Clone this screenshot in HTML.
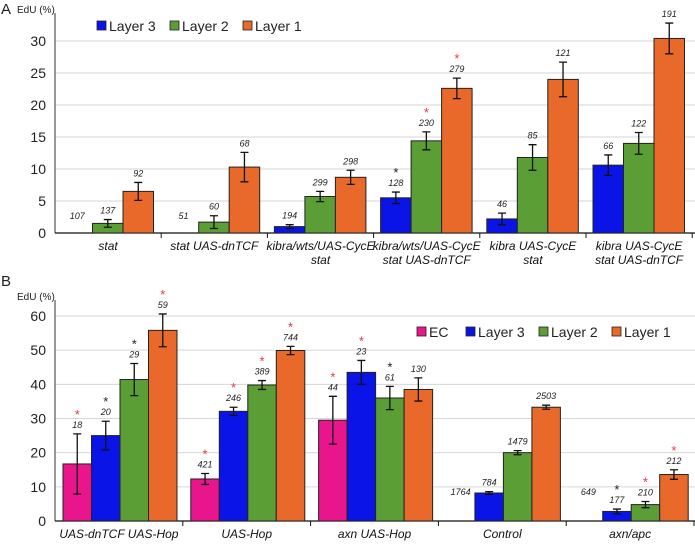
<!DOCTYPE html>
<html><head><meta charset="utf-8"><style>
body{margin:0;background:#fff;}
svg{display:block;font-family:"Liberation Sans",sans-serif;}
</style></head><body>
<svg id="c" width="695" height="544" viewBox="0 0 695 544"></svg>
<script>
const aGroups=[["stat"],["stat UAS-dnTCF"],["kibra/wts/UAS-CycE","stat"],["kibra/wts/UAS-CycE","stat UAS-dnTCF"],["kibra UAS-CycE","stat"],["kibra UAS-CycE","stat UAS-dnTCF"]];
const aSeries=["Layer 3","Layer 2","Layer 1"];
const aL3=[0,0,1.0,5.5,2.2,10.6];
const aL2=[1.5,1.7,5.7,14.4,11.8,14.0];
const aL1=[6.5,10.3,8.7,22.6,24.0,30.4];
const aE3=[0,0,0.3,0.9,0.9,1.6];
const aE2=[0.6,1.0,0.8,1.4,2.0,1.7];
const aE1=[1.4,2.3,1.1,1.6,2.7,2.4];
const aN3=["107","51","194","128","46","66"];
const aN2=["137","60","299","230","85","122"];
const aN1=["92","68","298","279","121","191"];
const aS3=["","","","k","",""];
const aS2=["","","","r","",""];
const aS1=["","","","r","",""];
const aTicks=[0,5,10,15,20,25,30];

const bGroups=["UAS-dnTCF UAS-Hop","UAS-Hop","axn UAS-Hop","Control","axn/apc"];
const bSeries=["EC","Layer 3","Layer 2","Layer 1"];
const bEC=[16.7,12.3,29.5,0,0];
const bL3=[25.0,32.1,43.5,8.2,2.8];
const bL2=[41.4,39.8,36.0,20.0,4.8];
const bL1=[55.8,49.9,38.5,33.3,13.6];
const bEEC=[8.8,1.6,7.0,0,0];
const bE3=[4.2,1.2,3.5,0.4,0.7];
const bE2=[4.7,1.3,3.4,0.6,0.9];
const bE1=[4.8,1.2,3.4,0.6,1.4];
const bNEC=["18","421","44","1764","649"];
const bN3=["20","246","23","784","177"];
const bN2=["29","389","61","1479","210"];
const bN1=["59","744","130","2503","212"];
const bSEC=["r","r","r","",""];
const bS3=["k","r","r","","k"];
const bS2=["k","r","k","","r"];
const bS1=["r","r","","","r"];
const bTicks=[0,10,20,30,40,50,60];

const colors={"EC":"#e8158c","Layer 3":"#0a14e6","Layer 2":"#5c9e36","Layer 1":"#e8692a"};
const svg=document.getElementById('c');
const NS="http://www.w3.org/2000/svg";
function mk(tag,attrs,parent){const e=document.createElementNS(NS,tag);for(const k in attrs)e.setAttribute(k,attrs[k]);(parent||svg).appendChild(e);return e;}

function panel(cfg){
  const g=mk('g',{});
  
  
  const y=v=>cfg.y0-(v-cfg.ymin)*(cfg.y0-cfg.yTop)/(cfg.ymax-cfg.ymin);
  cfg.ticks.forEach(t=>{
    if(t>0){const l=mk('line',{x1:cfg.x0,x2:695,y1:y(t),y2:y(t),stroke:'#d6d6d6','stroke-width':1},g);
    }
    const tx=mk('text',{x:cfg.x0-9,y:y(t)+5,'text-anchor':'end','font-size':14,fill:'#222'},g);
    tx.textContent=t;
    
  });
  const ya=mk('line',{x1:cfg.x0,x2:cfg.x0,y1:cfg.axTop,y2:cfg.y0,stroke:'#555','stroke-width':1.2},g);
  
  const xa=mk('line',{x1:cfg.x0,x2:695,y1:cfg.y0,y2:cfg.y0,stroke:'#111','stroke-width':1.2},g);
  
  const yt=mk('text',{x:cfg.x0-38,y:cfg.axTop-0,'font-size':10,fill:'#222'},g);
  yt.textContent='EdU (%)';
  
  const n=cfg.groups.length;
  for(let i=0;i<n;i++){
    const gx=cfg.x0+i*cfg.gw;
    const tk=mk('line',{x1:gx+cfg.gw,x2:gx+cfg.gw,y1:cfg.y0,y2:cfg.y0+5,stroke:'#111'},g);
    
    const lines=Array.isArray(cfg.groups[i])?cfg.groups[i]:[cfg.groups[i]];
    lines.forEach((s,j)=>{
      const t=mk('text',{x:gx+cfg.gw/2+(cfg.labOff||0),y:cfg.y0+17+j*14,'text-anchor':'middle','font-size':12,'font-style':'italic',fill:'#111'},g);
      t.textContent=s;
      
    });
    cfg.series.forEach((sn,k)=>{
      const v=cfg.vals[k][i],e=cfg.errs[k][i];
      const bx=gx+cfg.pad+k*cfg.bw;
      if(v>0){
        const r=mk('rect',{x:bx,y:y(v),width:cfg.bw,height:cfg.y0-y(v),fill:colors[sn],stroke:'#222','stroke-width':1},g);
        
      }
      const cx=bx+cfg.bw/2;
      let top=y(v+e);
      if(e>0){
        const eb=mk('path',{d:`M${cx},${y(v+e)}V${y(v-e)}M${cx-4},${y(v+e)}H${cx+4}M${cx-4},${y(v-e)}H${cx+4}`,stroke:'#111','stroke-width':1.3,fill:'none'},g);
        
      }
      if(v===0) top=cfg.y0-cfg.zeroOff;
      const nt=mk('text',{x:cx,y:top-6,'text-anchor':'middle','font-size':9,'font-style':'italic',fill:'#222'},g);
      nt.textContent=cfg.ns[k][i];
      
      const st=cfg.stars[k][i];
      if(st){
        const s=mk('text',{x:cx,y:top-15,'text-anchor':'middle','font-size':13,fill:st==='r'?'#e8364a':'#222'},g);
        s.textContent='*';
        
      }
    });
  }
  // legend
  let lx=cfg.legX;
  cfg.series.forEach(sn=>{
    const r=mk('rect',{x:lx,y:cfg.legY-5,width:9,height:9,fill:colors[sn],stroke:'#222','stroke-width':0.8},g);
    
    const t=mk('text',{x:lx+12,y:cfg.legY+5,'font-size':14,fill:'#222'},g);
    t.textContent=sn;
    
    lx+=sn==='EC'?49:73;
  });
  const pl=mk('text',{x:1,y:cfg.labelY,'font-size':15,fill:'#222'},g);
  pl.textContent=cfg.label;
  
}
panel({name:'panel-a-chart',label:'A',labelY:14,x0:55,y0:233,yTop:41,ymin:0,ymax:30,axTop:13,ticks:aTicks,groups:aGroups,series:aSeries,
  vals:[aL3,aL2,aL1],errs:[aE3,aE2,aE1],ns:[aN3,aN2,aN1],stars:[aS3,aS2,aS1],gw:106.2,pad:7,bw:30.5,zeroOff:8,legX:97,legY:26,labOff:0});
panel({name:'panel-b-chart',label:'B',labelY:286,x0:55,y0:521,yTop:316,ymin:0,ymax:60,axTop:300,ticks:bTicks,groups:bGroups,series:bSeries,
  vals:[bEC,bL3,bL2,bL1],errs:[bEEC,bE3,bE2,bE1],ns:[bNEC,bN3,bN2,bN1],stars:[bSEC,bS3,bS2,bS1],gw:127.8,pad:8,bw:28.5,zeroOff:20,legX:417,legY:332,labOff:0});
</script>
</body></html>
